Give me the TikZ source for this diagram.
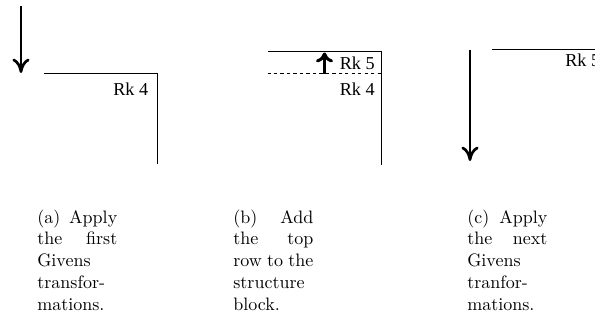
\documentclass[tikz,border=0pt]{standalone}
\usepackage{fontspec}
\newfontfamily\rkfont{Liberation Serif}
\usetikzlibrary{arrows.meta}
\newlength{\capw}
\setlength{\capw}{44.4pt}
\begin{document}
\begin{tikzpicture}[x=0.5556pt,y=-0.5556pt,
  frame/.style={line width=0.55pt},
  dashline/.style={line width=0.55pt,dash pattern=on 1.8pt off 1.8pt},
  bigarrow/.style={line width=1.5pt,-{Computer Modern Rightarrow[length=8pt,width=9.5pt]}},
  uparrow/.style={line width=1.7pt,-{Computer Modern Rightarrow[length=5.5pt,width=9.5pt]}},
  rk/.style={font=\rkfont\fontsize{10.1}{12}\selectfont,inner sep=0pt,anchor=base east},
  captext/.style={inner sep=0pt,anchor=base west,font=\fontsize{10}{12.1}\selectfont}]
\useasboundingbox (0,0) rectangle (595,331);
\clip (0,0) rectangle (595,331);
% panel (a)
\coordinate (aarrS) at (21,6);
\coordinate (aarrE) at (21,73);
\draw[bigarrow] (aarrS) -- (aarrE);
\coordinate (aTL) at (43.5,73.5);
\coordinate (aTR) at (157,73.5);
\coordinate (aBR) at (157,164);
\draw[frame] (aTL) -- (aTR) -- (aBR);
\node[rk] (rka) at (148.5,95) {Rk 4};
% panel (b)
\coordinate (bTL) at (267.5,51.5);
\coordinate (bTR) at (381.5,51.5);
\coordinate (bBR) at (381.5,165);
\draw[frame] (bTL) -- (bTR) -- (bBR);
\coordinate (bDL) at (267.5,73.5);
\coordinate (bDR) at (381.5,73.5);
\draw[dashline] (bDL) -- (bDR);
\coordinate (barrS) at (324.5,73.5);
\coordinate (barrE) at (324.5,52.5);
\draw[uparrow] (barrS) -- (barrE);
\node[rk] (rkb5) at (375,69.5) {Rk 5};
\node[rk] (rkb4) at (375,95) {Rk 4};
% panel (c)
\coordinate (carrS) at (470,49.5);
\coordinate (carrE) at (470,161);
\draw[bigarrow] (carrS) -- (carrE);
\coordinate (cTL) at (491.5,49.5);
\coordinate (cTR) at (600,49.5);
\draw[frame] (cTL) -- (cTR);
\node[rk,anchor=base west] (rkc) at (565,66) {Rk 5};
% captions
\node[captext] (capa) at (37,223) {\parbox[t]{\capw}{\makebox[\capw][s]{(a) Apply}\\\makebox[\capw][s]{the first}\\Givens\\transfor-\\mations.}};
\node[captext] (capb) at (233,223) {\parbox[t]{\capw}{\makebox[\capw][s]{(b) Add}\\\makebox[\capw][s]{the top}\\\makebox[\capw][s]{row to the}\\structure\\block.}};
\node[captext] (capc) at (467,223) {\parbox[t]{\capw}{\makebox[\capw][s]{(c) Apply}\\\makebox[\capw][s]{the next}\\Givens\\tranfor-\\mations.}};
\end{tikzpicture}
\end{document}
